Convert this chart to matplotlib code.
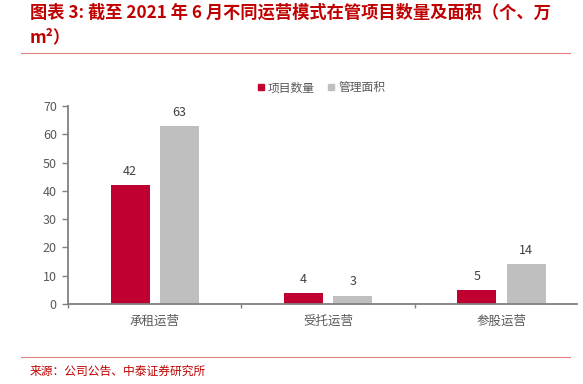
import numpy as np
import matplotlib.pyplot as plt
from matplotlib.lines import Line2D

plt.rcParams['font.family'] = ['Noto Sans CJK SC', 'DejaVu Sans']

categories = ['承租运营', '受托运营', '参股运营']
project_count = [42, 4, 5]
managed_area = [63, 3, 14]
series_names = ['项目数量', '管理面积']

red = '#C00030'
gray = '#BFBFBF'
text_gray = '#595959'

fig = plt.figure(figsize=(5.83, 3.84), dpi=100)
ax = fig.add_axes([0.1166, 0.2083, 0.8731, 0.5157])

x = np.arange(len(categories))
w = 0.225
b1 = ax.bar(x - 0.142, project_count, w, color=red, label=series_names[0])
b2 = ax.bar(x + 0.142, managed_area, w, color=gray, label=series_names[1])

for bars, vals in [(b1, project_count), (b2, managed_area)]:
    for rect, v in zip(bars, vals):
        ax.text(rect.get_x() + rect.get_width() / 2, v + 2.5, str(v),
                ha='center', va='bottom', fontsize=9, color='#404040')

ax.set_ylim(0, 70)
ax.set_yticks(range(0, 71, 10))
ax.set_xlim(-0.5, 2.435)

# boundary ticks on the x axis, labels in the middle
ax.set_xticks([-0.5, 0.5, 1.5])
ax.set_xticklabels([])
ax.set_xticks(x, minor=True)
ax.set_xticklabels(categories, minor=True, fontsize=9, color=text_gray)
ax.tick_params(axis='x', which='minor', length=0, pad=8)
ax.tick_params(axis='x', which='major', length=3, color='#808080', width=1)
ax.tick_params(axis='y', length=4, color='#808080', width=1, labelsize=9,
               labelcolor=text_gray, pad=4)

for s in ['top', 'right']:
    ax.spines[s].set_visible(False)
for s in ['left', 'bottom']:
    ax.spines[s].set_color('#808080')
    ax.spines[s].set_linewidth(1.3)

handles = [Line2D([], [], marker='s', linestyle='', color=red, markersize=5),
           Line2D([], [], marker='s', linestyle='', color=gray, markersize=5)]
fig.legend(handles, series_names, loc='center', bbox_to_anchor=(0.55, 0.771),
           ncol=2, frameon=False, fontsize=8.5, handletextpad=0.2,
           columnspacing=1.0, labelcolor=text_gray, handlelength=0.8)

fig.text(0.051, 0.966, '图表 3: 截至 2021 年 6 月不同运营模式在管项目数量及面积（个、万',
         fontsize=12.4, fontweight='bold', color='#C00000', va='center', ha='left')
fig.text(0.051, 0.902, 'm²）', fontsize=12.4, fontweight='bold', color='#C00000',
         va='center', ha='left', style='italic')

fig.add_artist(Line2D([0.036, 0.978], [0.862, 0.862], color='#E08080', linewidth=0.8))
fig.add_artist(Line2D([0.036, 0.978], [0.070, 0.070], color='#E08080', linewidth=0.8))
fig.text(0.051, 0.034, '来源：公司公告、中泰证券研究所', fontsize=8.5,
         color='#C00000', va='center', ha='left')

plt.savefig('out.png', dpi=100)
